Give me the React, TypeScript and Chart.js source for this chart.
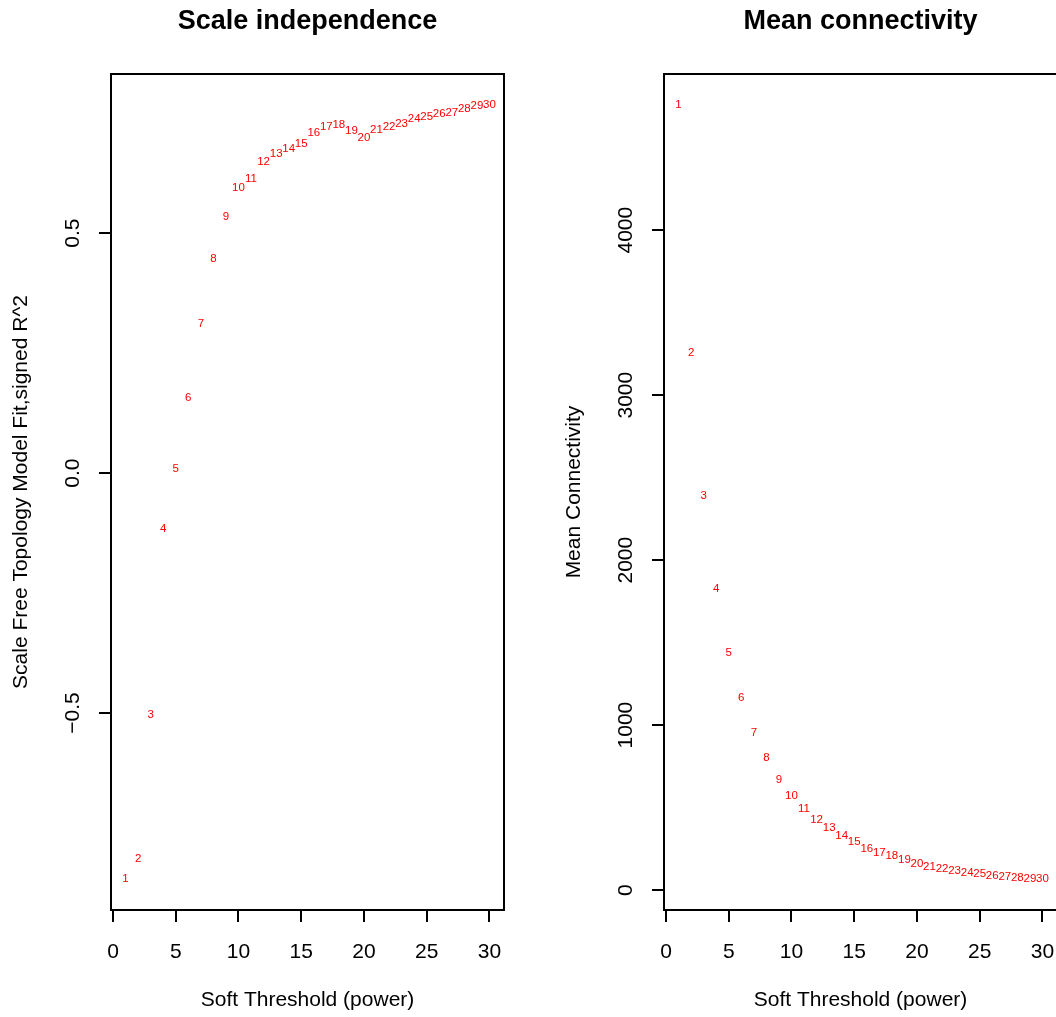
import { useEffect, useRef } from "react";
import { Chart, registerables } from "chart.js";

Chart.register(...registerables);

// Soft-thresholding powers tested
const powers = [
  1, 2, 3, 4, 5, 6, 7, 8, 9, 10, 11, 12, 13, 14, 15, 16, 17, 18, 19, 20, 21,
  22, 23, 24, 25, 26, 27, 28, 29, 30,
];

// Scale-free topology fit index (signed R^2) per power
const scaleFreeFit = [
  -0.846, -0.804, -0.504, -0.117, 0.008, 0.157, 0.311, 0.446, 0.533, 0.594,
  0.613, 0.648, 0.665, 0.675, 0.685, 0.709, 0.721, 0.726, 0.713, 0.699, 0.715,
  0.721, 0.727, 0.738, 0.742, 0.748, 0.751, 0.758, 0.765, 0.767,
];

// Mean connectivity per power
const meanConnectivity = [
  4759, 3255, 2389, 1827, 1441, 1164, 956, 799, 671, 574, 491, 424, 376, 326,
  291, 253, 223, 206, 182, 162, 141, 127, 117, 105, 97, 89, 83, 77, 71, 67,
];

const xTickValues = [0, 5, 10, 15, 20, 25, 30];
const fitTickValues = [-0.5, 0, 0.5];
const fitTickLabels = ["\u22120.5", "0.0", "0.5"];
const connTickValues = [0, 1000, 2000, 3000, 4000];
const connTickLabels = ["0", "1000", "2000", "3000", "4000"];

const FONT = "'Liberation Sans', Arial, Helvetica, sans-serif";
const CANVAS_W = 528;
const CANVAS_H = 1017;

// R-style axis range: data range extended by 4% on each side
function paddedRange(values: number[]): [number, number] {
  const lo = Math.min(...values);
  const hi = Math.max(...values);
  const d = (hi - lo) * 0.04;
  return [lo - d, hi + d];
}

const panelDecor = {
  id: "panelDecor",
  afterDatasetsDraw(chart: any, _args: any, opts: any) {
    const { ctx } = chart;
    const meta = chart.getDatasetMeta(0);
    ctx.save();
    ctx.fillStyle = "#ff0000";
    ctx.font = `11.5px ${FONT}`;
    ctx.textAlign = "center";
    ctx.textBaseline = "middle";
    meta.data.forEach((pt: any, i: number) => {
      ctx.fillText(String(opts.pointLabels[i]), pt.x, pt.y);
    });
    ctx.restore();
  },
  afterDraw(chart: any, _args: any, opts: any) {
    const { ctx, chartArea: a } = chart;
    ctx.save();
    // plot frame
    ctx.strokeStyle = "#000";
    ctx.lineWidth = 2;
    ctx.strokeRect(a.left, a.top, a.right - a.left, a.bottom - a.top);
    // main title
    ctx.fillStyle = "#000";
    ctx.font = `bold 27px ${FONT}`;
    ctx.textAlign = "center";
    ctx.textBaseline = "middle";
    ctx.fillText(opts.title, (a.left + a.right) / 2, 22);
    // vertical y tick labels, read bottom-to-top
    const yScale = chart.scales.y;
    ctx.font = `21px ${FONT}`;
    opts.yTickValues.forEach((v: number, i: number) => {
      const py = yScale.getPixelForValue(v);
      ctx.save();
      ctx.translate(a.left - 38, py);
      ctx.rotate(-Math.PI / 2);
      ctx.fillText(opts.yTickLabels[i], 0, 0);
      ctx.restore();
    });
    ctx.restore();
  },
};

function makeConfig(
  values: number[],
  title: string,
  yTitle: string,
  yTickValues: number[],
  yTickLabels: string[]
): any {
  const [xMin, xMax] = paddedRange(powers);
  const [yMin, yMax] = paddedRange(values);
  const tickGrid = {
    display: true,
    drawOnChartArea: false,
    drawTicks: true,
    tickLength: 12,
    tickWidth: 2,
    tickColor: "#000",
    lineWidth: 2,
    color: "#000",
  };
  return {
    type: "scatter",
    data: {
      datasets: [
        {
          data: powers.map((p, i) => ({ x: p, y: values[i] })),
          pointRadius: 0,
          pointHoverRadius: 0,
          showLine: false,
        },
      ],
    },
    options: {
      animation: false,
      responsive: false,
      events: [],
      layout: { padding: { left: 0, right: 24, top: 74, bottom: 0 } },
      plugins: {
        legend: { display: false },
        tooltip: { enabled: false },
        title: { display: false },
        panelDecor: {
          title,
          yTickValues,
          yTickLabels,
          pointLabels: powers,
        },
      },
      scales: {
        x: {
          type: "linear",
          position: "bottom",
          min: xMin,
          max: xMax,
          afterBuildTicks: (s: any) => {
            s.ticks = xTickValues.map((v) => ({ value: v }));
          },
          afterFit: (s: any) => {
            s.height = CANVAS_H - 910;
          },
          border: { display: false },
          grid: tickGrid,
          ticks: {
            color: "#000",
            font: { family: FONT, size: 21 },
            padding: 18,
            maxRotation: 0,
            minRotation: 0,
            autoSkip: false,
          },
          title: {
            display: true,
            text: "Soft Threshold (power)",
            color: "#000",
            font: { family: FONT, size: 21 },
            padding: { top: 0, bottom: 4 },
          },
        },
        y: {
          type: "linear",
          position: "left",
          min: yMin,
          max: yMax,
          afterBuildTicks: (s: any) => {
            s.ticks = yTickValues.map((v) => ({ value: v }));
          },
          afterFit: (s: any) => {
            s.width = 111;
          },
          border: { display: false },
          grid: tickGrid,
          ticks: { display: false },
          title: {
            display: true,
            text: yTitle,
            color: "#000",
            font: { family: FONT, size: 21 },
            padding: { top: 9, bottom: 0 },
          },
        },
      },
    },
    plugins: [panelDecor],
  };
}

export default function App() {
  const leftRef = useRef<HTMLCanvasElement | null>(null);
  const rightRef = useRef<HTMLCanvasElement | null>(null);

  useEffect(() => {
    if (!leftRef.current || !rightRef.current) return;
    const left = new Chart(
      leftRef.current,
      makeConfig(
        scaleFreeFit,
        "Scale independence",
        "Scale Free Topology Model Fit,signed R^2",
        fitTickValues,
        fitTickLabels
      )
    );
    const right = new Chart(
      rightRef.current,
      makeConfig(
        meanConnectivity,
        "Mean connectivity",
        "Mean Connectivity",
        connTickValues,
        connTickLabels
      )
    );
    return () => {
      left.destroy();
      right.destroy();
    };
  }, []);

  return (
    <div
      style={{
        position: "fixed",
        left: 0,
        top: 0,
        width: 1056,
        height: CANVAS_H,
        overflow: "hidden",
        background: "#fff",
      }}
    >
      <canvas
        ref={leftRef}
        width={CANVAS_W}
        height={CANVAS_H}
        style={{ position: "absolute", left: 0, top: 0, width: CANVAS_W, height: CANVAS_H }}
      />
      <canvas
        ref={rightRef}
        width={CANVAS_W}
        height={CANVAS_H}
        style={{ position: "absolute", left: 553, top: 0, width: CANVAS_W, height: CANVAS_H }}
      />
    </div>
  );
}
